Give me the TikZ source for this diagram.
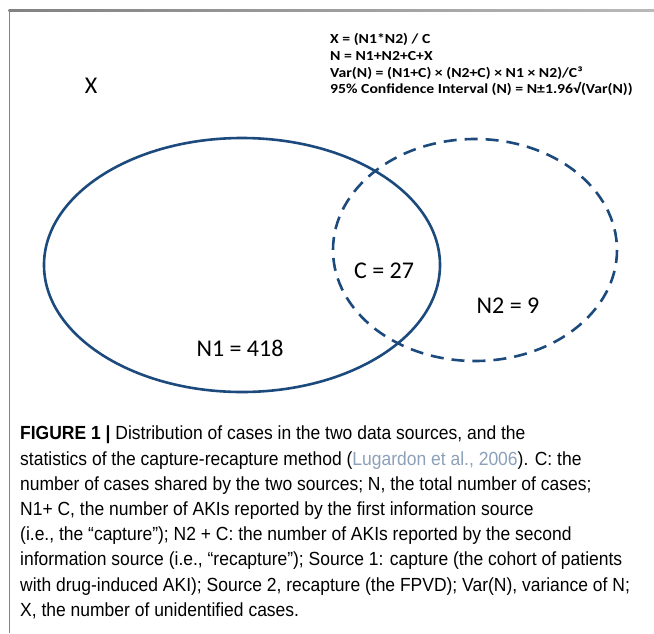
\documentclass[tikz,border=0pt]{standalone}
\usepackage{fontspec}
\setmainfont{Liberation Sans}
\newfontfamily\capfont[FakeStretch=0.92]{Liberation Sans}
\newfontfamily\lblfont{Carlito}
\newfontfamily\formfont[FakeStretch=1.14]{Carlito}
\definecolor{ellblue}{RGB}{28,74,124}
\definecolor{citecol}{RGB}{140,160,185}
\definecolor{framegray}{RGB}{130,130,130}
\definecolor{framelight}{RGB}{185,185,185}
\tikzset{
  setline/.style={draw=ellblue, line width=2.6pt},
  setdash/.style={draw=ellblue, line width=2.6pt, dash pattern=on 13pt off 8pt},
  lbl/.style={font=\lblfont\fontsize{24}{28}\selectfont, inner sep=0pt, text=black},
}
\begin{document}
\begin{tikzpicture}[x=1pt,y=-1pt]
\useasboundingbox (0,0) rectangle (654,633);
% frame
\shade[left color=framegray, right color=framelight] (8.5,9.8) rectangle (654,11.4);
\fill[framegray] (8.5,9.8) rectangle (9.9,633);
% sets
\draw[setline] (242,265) ellipse [x radius=198, y radius=127];
\draw[setdash] (475,250) ellipse [x radius=142, y radius=111];
% labels
\node[lbl] (x) at (91,86) {X};
\node[lbl] (c) at (384,271) {C = 27};
\node[lbl] (n2) at (508,306) {N2 = 9};
\node[lbl] (n1) at (240,348) {N1 = 418};
% formulas
\node[anchor=north west, inner sep=0pt, align=left,
      font=\formfont\bfseries\fontsize{13.8}{16.8}\selectfont] (form) at (330,33)
 {X = (N1*N2) / C\\
  N = N1+N2+C+X\\
  Var(N) = (N1+C) × (N2+C) × N1 × N2)/C³\\
  95\% Confidence Interval (N) = N±1.96√(Var(N))};
% caption
\node[anchor=north west, inner sep=0pt, align=left,
      font=\capfont\fontsize{19}{25.2}\selectfont] (cap) at (20,426)
 {{\bfseries FIGURE 1 |} Distribution of cases in the two data sources, and the\\
  statistics of the capture-recapture method ({\color{citecol}Lugardon et al., 2006}). C: the\\
  number of cases shared by the two sources; N, the total number of cases;\\
  N1+ C, the number of AKIs reported by the first information source\\
  (i.e., the “capture”); N2 + C: the number of AKIs reported by the second\\
  information source (i.e., “recapture”); Source 1: capture (the cohort of patients\\
  with drug-induced AKI); Source 2, recapture (the FPVD); Var(N), variance of N;\\
  X, the number of unidentified cases.};
\end{tikzpicture}
\end{document}
